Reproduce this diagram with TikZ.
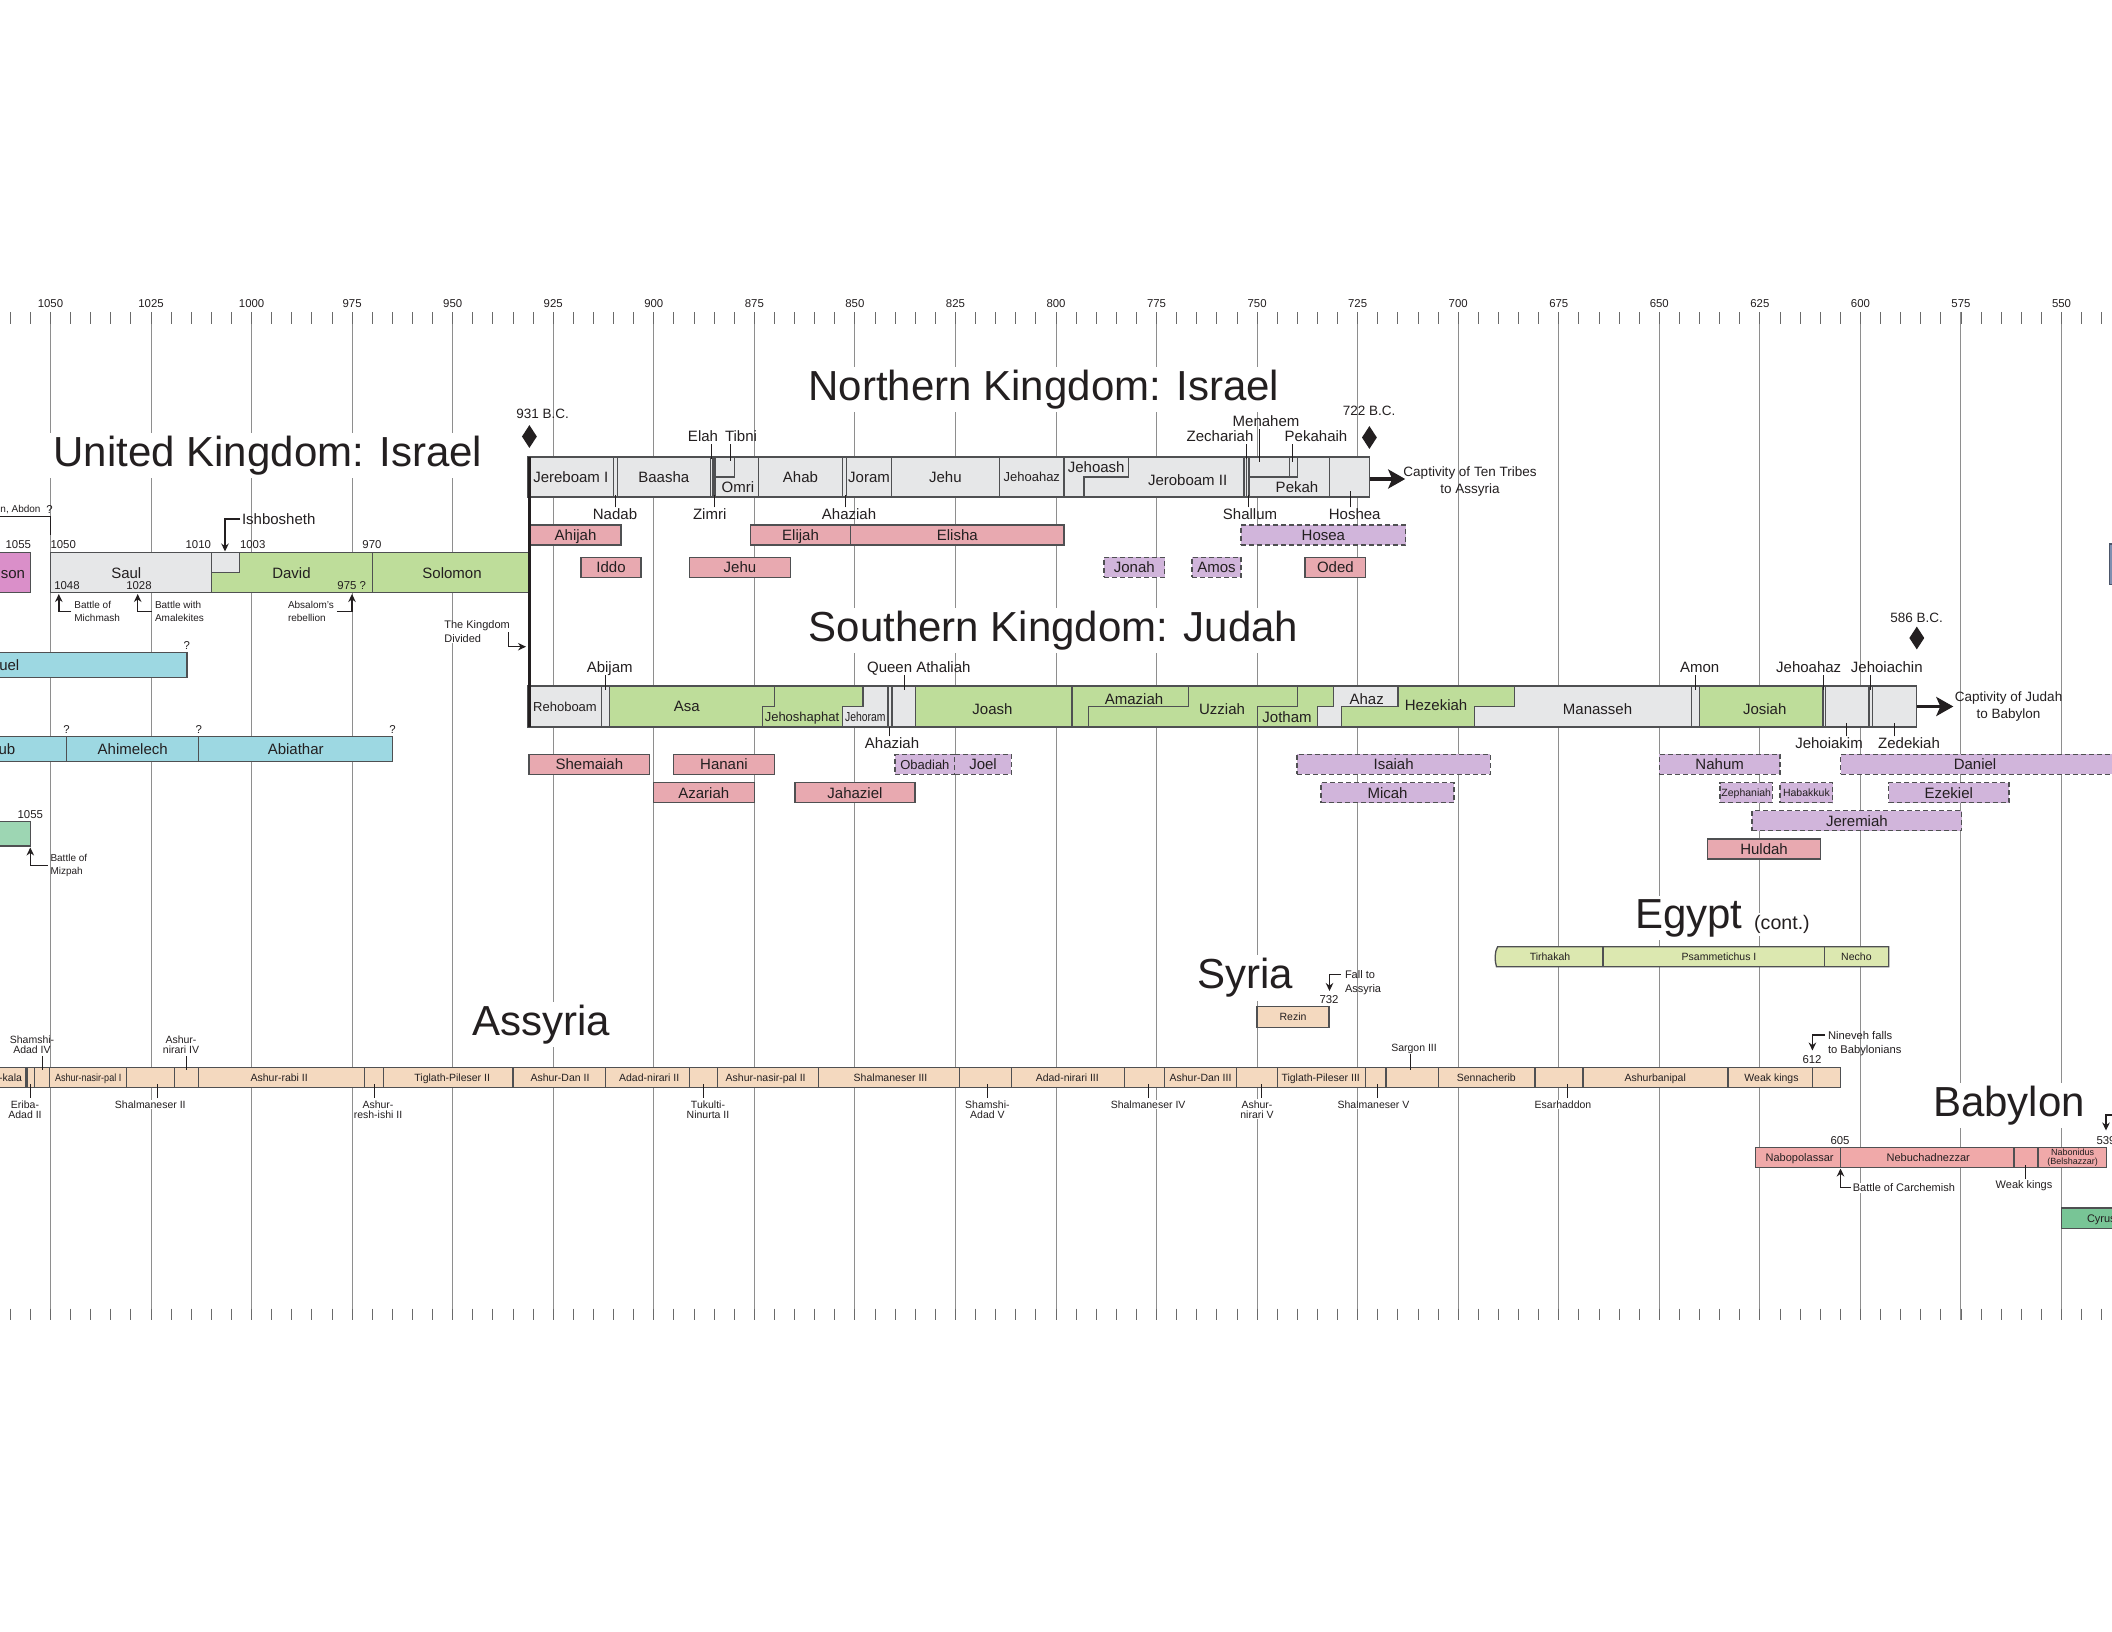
\documentclass[tikz,border=0pt]{standalone}
\usepackage{fontspec}
\setmainfont{Liberation Sans}
\usetikzlibrary{arrows.meta,shapes.geometric}
\definecolor{txt}{HTML}{231F20}
\definecolor{gridc}{HTML}{8E8E8E}
\definecolor{tickc}{HTML}{6A6A6A}
\definecolor{bord}{HTML}{4F5052}
\definecolor{kgray}{HTML}{E6E7E8}
\definecolor{kgreen}{HTML}{BEDD9A}
\definecolor{ppink}{HTML}{E8A9B0}
\definecolor{ppurple}{HTML}{D1B5DB}
\definecolor{pcyan}{HTML}{9DD8E2}
\definecolor{jmag}{HTML}{DA8FC9}
\definecolor{jmint}{HTML}{9DD6B3}
\definecolor{speach}{HTML}{F4D9BF}
\definecolor{egy}{HTML}{DCE8B0}
\definecolor{bab}{HTML}{F0A9A9}
\definecolor{cyr}{HTML}{78C596}
\definecolor{slate}{HTML}{7F8FB0}
\newcommand\FTitle{\fontsize{42}{46}\selectfont}
\newcommand\FKing{\fontsize{15}{18}\selectfont}
\newcommand\FKsm{\fontsize{13}{15}\selectfont}
\newcommand\FBC{\fontsize{13.5}{17}\selectfont}
\newcommand\FSmall{\fontsize{11}{13.3}\selectfont}
\newcommand\FNote{\fontsize{10}{13}\selectfont}
\newcommand\FAss{\fontsize{10.5}{10}\selectfont}
\newcommand\FYear{\fontsize{11.4}{13}\selectfont}
\newcommand\FNin{\fontsize{11.2}{14}\selectfont}
\newcommand\BX[7]{\node[#2, minimum width={#4-(#3)}, minimum height={#6-(#5)}] (#1) at (#3,#5) {#7};}
\newcommand\PtrUp[4]{%
  \path ([xshift=#2pt,yshift=1.5pt]#1.north) coordinate (#1-a);
  \path (#1-a |- #3) coordinate (#1-b);
  \draw[ptr] (#1-a) -- ([yshift=#4pt]#1-b);}
\newcommand\PtrDn[4]{%
  \path ([xshift=#2pt,yshift=-3pt]#1.south) coordinate (#1-a);
  \path (#1-a |- #3) coordinate (#1-b);
  \draw[ptr] (#1-a) -- ([yshift=-#4pt]#1-b);}
\tikzset{
  gridline/.style={draw=gridc, line width=1pt},
  tickline/.style={draw=tickc, line width=0.9pt},
  divl/.style={draw=bord, line width=1.2pt},
  ptr/.style={draw=txt, line width=0.9pt},
  arr/.style={draw=txt, line width=1.4pt, -{Stealth[length=8pt,width=7.5pt]}},
  bigarr/.style={draw=txt, line width=3.2pt, -{Stealth[length=17pt,width=19pt,inset=4pt]}},
  bx/.style={rectangle, draw=bord, line width=1.3pt, inner sep=0pt, outer sep=0pt, anchor=north west, font=\FKing, text height=10.8pt, text depth=0pt, text=txt},
  kingb/.style={bx, fill=kgray},
  goodb/.style={bx, fill=kgreen},
  pinkb/.style={bx, fill=ppink},
  purpb/.style={bx, fill=ppurple, dash pattern=on 5pt off 3pt},
  purpsb/.style={purpb, font=\fontsize{10.5}{12}\selectfont, text height=7.6pt},
  purpmb/.style={purpb, font=\FKsm, text height=9.4pt},
  cyanb/.style={bx, fill=pcyan},
  magb/.style={bx, fill=jmag},
  mintb/.style={bx, fill=jmint},
  peachb/.style={bx, fill=speach, font=\FAss, text height=7.6pt},
  babb/.style={bx, fill=bab},
  cyrb/.style={bx, fill=cyr},
  slateb/.style={bx, fill=slate, draw=slate!60!black},
  kl/.style={font=\FKing, inner sep=0pt, outer sep=0pt, text height=10.8pt, text depth=0pt, text=txt},
  kls/.style={kl, font=\FKsm, text height=9.4pt},
  yl/.style={kl, font=\FYear, text height=8.2pt},
  bcl/.style={kl, font=\FBC, text height=9.7pt},
  asl/.style={kl, font=\FAss, text height=7.6pt},
  bbl/.style={kl, font=\FSmall, text height=7.9pt},
  asl2/.style={font=\FAss, align=center, inner sep=0pt, outer sep=0pt, text=txt},
  note/.style={font=\FNote, align=left, inner sep=0pt, outer sep=0pt, text=txt, anchor=north west},
  ttl/.style={font=\FTitle, anchor=base, fill=white, inner xsep=5pt, inner ysep=3pt, text=txt},
  dia/.style={diamond, fill=txt, draw=none, inner sep=0pt, minimum width=15pt, minimum height=23pt},
}
\begin{document}
\begin{tikzpicture}[x=1pt,y=-1pt]
\useasboundingbox (0,0) rectangle (2112,1632);
\fill[white] (0,0) rectangle (2112,1632);
% ---------------- time grid
\foreach \yr in {1050,1025,...,550}{
  \draw[gridline] ({50.5+(1050-\yr)*4.022},312) -- ({50.5+(1050-\yr)*4.022},1320);
  \node[yl] (yr\yr) at ({50.5+(1050-\yr)*4.022},303) {\yr};
}
\foreach \yr in {1060,1055,...,540}{
  \draw[tickline] ({50.5+(1050-\yr)*4.022},312) -- ++(0,11.5);
  \draw[tickline] ({50.5+(1050-\yr)*4.022},1308.5) -- ++(0,11.5);
}
% ---------------- titles
\node[ttl] (tUnited) at (268,466.7) {United Kingdom: Israel};
\node[ttl] (tNorth) at (1044,400.5) {Northern Kingdom: Israel};
\node[ttl] (tSouth) at (1053.5,641.7) {Southern Kingdom: Judah};
\node[ttl] (tAssyria) at (541.4,1035) {Assyria};
\node[ttl] (tSyria) at (1245,988.8) {Syria};
\node[ttl] (tEgypt) at (1688.7,928.3) {Egypt};
\node[anchor=base west, font=\fontsize{19.6}{22}\selectfont, fill=white, inner sep=2pt, text=txt] (tCont) at (1752,929.5) {(cont.)};
\node[ttl] (tBabylon) at (2009,1116.7) {Babylon};
% ---------------- United Kingdom
\node[yl, font=\fontsize{10}{12}\selectfont, text height=7.2pt, anchor=west] (abdon) at (0.5,509) {n, Abdon};
\node[yl] (q0) at (49.6,509) {?};
\coordinate (abd-a) at (-2,516.7);
\coordinate (abd-b) at (50.5,535);
\draw[ptr] (abd-a) -| (abd-b);
\BX{sonbox}{magb}{-5}{30.7}{552.7}{592.7}{son}
\BX{saul}{kingb}{50.5}{211.4}{552.7}{592.7}{}
\BX{ishbox}{kingb}{211.4}{239.5}{552.7}{572.7}{}
\draw[divl, fill=kgreen, line width=1.3pt] (211.4,572.7) -- (239.5,572.7) -- (239.5,552.7) -- (372.3,552.7) -- (372.3,592.7) -- (211.4,592.7) -- cycle;
\BX{solomon}{goodb}{372.3}{529}{552.7}{592.7}{}
\node[kl] (saulL) at (126.3,572.7) {Saul};
\node[kl] (davidL) at (291.5,572.7) {David};
\node[kl] (solomonL) at (452,572.7) {Solomon};
\node[yl] (y1055a) at (18.3,544) {1055};
\node[yl, anchor=west] (y1050a) at (50.5,544) {1050};
\node[yl, anchor=east] (y1010) at (211,544) {1010};
\node[yl, anchor=west] (y1003) at (240,544) {1003};
\node[yl] (y970) at (372,544) {970};
\node[yl, anchor=west] (y1048) at (54.3,585.7) {1048};
\node[yl] (y1028) at (139,585.7) {1028};
\node[yl, anchor=east] (y975) at (366,585.7) {975 ?};
\node[kl, anchor=west] (ishb) at (242,519) {Ishbosheth};
\coordinate (ishb-t) at (225,551.5);
\draw[arr] ([xshift=-2pt]ishb.west) -| (ishb-t);
\node[note] (michmash) at (74.4,601.3) {Battle of\\Michmash};
\node[note] (amalek) at (155,601.3) {Battle with\\Amalekites};
\node[note] (absalom) at (288,601.3) {Absalom's\\rebellion};
\coordinate (mich-t) at (58.8,594);
\coordinate (amal-t) at (137.7,594);
\coordinate (abs-t) at (352,594);
\draw[arr] ([xshift=-3pt]michmash.west) -| (mich-t);
\draw[arr] ([xshift=-3pt]amalek.west) -| (amal-t);
\draw[arr] ([xshift=3pt]absalom.east) -| (abs-t);
\node[note, font=\FSmall, fill=white, inner sep=1pt] (kdiv) at (443.4,620) {The Kingdom\\Divided};
\coordinate (kd-s) at (508.3,632);
\coordinate (kd-t) at (526,646.7);
\draw[arr] (kd-s) |- (kd-t);
% Samuel / priests / Samuel at Mizpah
\BX{samuel}{cyanb}{-5}{186.9}{652.7}{677.3}{}
\node[kl, anchor=east] (samuelL) at (19.3,665) {uel};
\node[yl] (q1) at (186.9,645) {?};
\BX{ahitub}{cyanb}{-5}{66.6}{736.7}{761.7}{}
\node[kl, anchor=east] (ahitubL) at (15.2,749.2) {ub};
\BX{ahimelech}{cyanb}{66.6}{198.8}{736.7}{761.7}{Ahimelech}
\BX{abiathar}{cyanb}{198.8}{392.6}{736.7}{761.7}{Abiathar}
\node[yl] (q2) at (66.6,729) {?};
\node[yl] (q3) at (198.8,729) {?};
\node[yl] (q4) at (392.6,729) {?};
\BX{mintbox}{mintb}{-5}{30.8}{821.7}{846}{}
\node[yl] (y1055b) at (30.3,814.3) {1055};
\node[note] (mizpah) at (50.5,854.6) {Battle of\\Mizpah};
\coordinate (miz-t) at (30.3,847.5);
\draw[arr] ([xshift=-3pt]mizpah.west) -| (miz-t);
% ---------------- Northern kingdom bar
\node[kingb, minimum width={1369.7-528}, minimum height=40] (nbar) at (528,457) {};
\foreach \xx in {613.6,617.6,710.1,713,715,758.3,842.8,846.8,891.1,999.7,1064,1244,1246.5,1249,1329.5}
  \draw[divl] (\xx,457) -- (\xx,497);
\draw[divl] (715,477) -- (734.3,477) -- (734.3,457);
\draw[divl] (1084,497) -- (1084,477) -- (1128.4,477) -- (1128.4,457);
\draw[divl] (1249,477) -- (1297.3,477) -- (1297.3,457);
\draw[divl] (1289.3,457) -- (1289.3,477);
\node[kl] (jer1) at (570.8,477) {Jereboam I};
\node[kl] (baasha) at (663.8,477) {Baasha};
\node[kl] (omri) at (737.9,487) {Omri};
\node[kl] (ahab) at (800.5,477) {Ahab};
\node[kl] (joram) at (869,477) {Joram};
\node[kl] (jehuK) at (945.4,477) {Jehu};
\node[kls] (jehoahazN) at (1031.8,477) {Jehoahaz};
\node[kl] (jehoash) at (1096.2,467.5) {Jehoash};
\node[kl] (jer2) at (1187.6,480) {Jeroboam II};
\node[kl] (pekah) at (1297,487) {Pekah};
\node[kl] (elah) at (703,436) {Elah};
\node[kl] (tibni) at (741,436) {Tibni};
\node[kl] (zech) at (1220,436) {Zechariah};
\node[kl] (menahem) at (1266,421) {Menahem};
\node[kl] (pekahiah) at (1316,436) {Pekahaih};
\PtrDn{elah}{8.3}{nbar.north}{2}
\PtrDn{tibni}{-11}{nbar.north}{4}
\PtrDn{zech}{26}{nbar.north}{2}
\PtrDn{menahem}{-7}{nbar.north}{5}
\PtrDn{pekahiah}{-24}{nbar.north}{5}
\node[kl] (nadab) at (615,514.3) {Nadab};
\node[kl] (zimri) at (709.7,514.3) {Zimri};
\node[kl] (ahaziahN) at (849,514.3) {Ahaziah};
\node[kl] (shallum) at (1250,514.3) {Shallum};
\node[kl] (hoshea) at (1354.7,514.3) {Hoshea};
\PtrUp{nadab}{0.5}{nbar.south}{2}
\PtrUp{zimri}{5}{nbar.south}{2}
\PtrUp{ahaziahN}{-4}{nbar.south}{2}
\PtrUp{shallum}{-2}{nbar.south}{2}
\PtrUp{hoshea}{-4.7}{nbar.south}{6}
\node[dia] (d931) at (529.4,436.5) {};
\node[bcl] (bc931) at (542.7,413.3) {931 B.C.};
\node[dia] (d722) at (1369.4,437.5) {};
\node[bcl] (bc722) at (1369,410.7) {722 B.C.};
\draw[bigarr] ([yshift=-2pt]nbar.east) -- ++(35.5,0);
\node[note, font=\FBC, align=center, anchor=north] (capt1) at (1470,466.4) {Captivity of Ten Tribes\\to Assyria};
% northern prophets
\BX{ahijah}{pinkb}{530}{621}{525}{545}{Ahijah}
\BX{elijah}{pinkb}{750.5}{850.6}{525}{545}{Elijah}
\BX{elisha}{pinkb}{850.6}{1064}{525}{545}{Elisha}
\BX{hosea}{purpb}{1241}{1405.7}{525}{545}{Hosea}
\BX{iddo}{pinkb}{581}{641}{557.3}{577.3}{Iddo}
\BX{jehuP}{pinkb}{689.6}{790.4}{557.3}{577.3}{Jehu}
\BX{jonah}{purpb}{1104}{1164.6}{557.3}{577.3}{Jonah}
\BX{amos}{purpb}{1192}{1241}{557.3}{577.3}{Amos}
\BX{oded}{pinkb}{1305}{1365.7}{557.3}{577.3}{Oded}
% ---------------- Southern kingdom bar
\node[kingb, draw=none, minimum width={1916.8-528}, minimum height=41] (jbar) at (528,686) {};
\fill[kgreen] (609.3,686) -- (863,686) -- (863,706.5) -- (842.8,706.5) -- (842.8,727) -- (609.3,727) -- cycle;
\fill[kgreen] (915.2,686) rectangle (1072,727);
\fill[kgreen] (1072,686) -- (1333.6,686) -- (1333.6,706.5) -- (1317.4,706.5) -- (1317.4,727) -- (1072,727) -- cycle;
\fill[kgreen] (1397.9,686) -- (1514.5,686) -- (1514.5,706.5) -- (1474.3,706.5) -- (1474.3,727) -- (1341.6,727) -- (1341.6,706.5) -- (1397.9,706.5) -- cycle;
\fill[kgreen] (1699.6,686) rectangle (1823,727);
\foreach \xx in {601.5,609.3,888,892,915.2,1072,1691.5,1699.6,1823,1825.5,1869,1872.3}
  \draw[divl] (\xx,686) -- (\xx,727);
\draw[divl] (774.5,686) -- (774.5,706.5) -- (762.4,706.5) -- (762.4,727);
\draw[divl] (863,686) -- (863,706.5) -- (842.8,706.5) -- (842.8,727);
\draw[divl] (1188.7,686) -- (1188.7,706.5) -- (1088.2,706.5) -- (1088.2,727);
\draw[divl] (1297.3,686) -- (1297.3,706.5) -- (1257.1,706.5) -- (1257.1,727);
\draw[divl] (1333.6,686) -- (1333.6,706.5) -- (1317.4,706.5) -- (1317.4,727);
\draw[divl] (1397.9,686) -- (1397.9,706.5) -- (1341.6,706.5) -- (1341.6,727);
\draw[divl] (1514.5,686) -- (1514.5,706.5) -- (1474.3,706.5) -- (1474.3,727);
\draw[divl, line width=1.3pt] (jbar.north west) rectangle (jbar.south east);
\draw[draw=txt, line width=3.3pt] ([xshift=1.5pt]nbar.north west) -- ([xshift=1.5pt]jbar.south west);
\node[kls] (rehob) at (565,706.5) {Rehoboam};
\node[kl] (asa) at (686.8,706.5) {Asa};
\node[kls] (jehosh) at (802,717) {Jehoshaphat};
\node[kls] (jehoram) at (865.3,717) {\scalebox{0.8}[1]{Jehoram}};
\node[kl] (joash) at (992.5,709) {Joash};
\node[kl] (amaziah) at (1134,699) {Amaziah};
\node[kl] (uzziah) at (1222,709) {Uzziah};
\node[kl] (jotham) at (1287,717.3) {Jotham};
\node[kl] (ahaz) at (1366.7,699) {Ahaz};
\node[kl] (hezekiah) at (1436,705) {Hezekiah};
\node[kl] (manasseh) at (1597.5,709) {Manasseh};
\node[kl] (josiah) at (1764.7,709) {Josiah};
\node[kl] (abijam) at (609.7,666.7) {Abijam};
\node[kl] (athaliah) at (918.8,666.7) {Queen Athaliah};
\node[kl] (amon) at (1699.7,666.7) {Amon};
\node[kl] (jehoahazJ) at (1808.7,666.7) {Jehoahaz};
\node[kl] (jehoiachin) at (1886.8,666.7) {Jehoiachin};
\PtrDn{abijam}{-4.7}{jbar.north}{4}
\PtrDn{athaliah}{-14.5}{jbar.north}{4}
\PtrDn{amon}{-4.1}{jbar.north}{4}
\PtrDn{jehoahazJ}{15}{jbar.north}{4}
\PtrDn{jehoiachin}{-16.3}{jbar.north}{4}
\node[kl] (ahaziahJ) at (892,743.3) {Ahaziah};
\node[kl] (jehoiakim) at (1829,743.3) {Jehoiakim};
\node[kl] (zedekiah) at (1909,743.3) {Zedekiah};
\PtrUp{ahaziahJ}{-2.4}{jbar.south}{0}
\PtrUp{jehoiakim}{17}{jbar.south}{4}
\PtrUp{zedekiah}{-15}{jbar.south}{4}
\node[dia] (d586) at (1916.8,638) {};
\node[bcl] (bc586) at (1916.6,617.3) {586 B.C.};
\draw[bigarr] (jbar.east) -- ++(36.5,0);
\node[note, font=\FBC, align=center, anchor=north] (capt2) at (2008.6,691.8) {Captivity of Judah\\to Babylon};
% southern prophets
\BX{shemaiah}{pinkb}{529}{649.7}{754.3}{774.3}{Shemaiah}
\BX{hanani}{pinkb}{673.5}{774.4}{754.3}{774.3}{Hanani}
\BX{azariah}{pinkb}{653.4}{754.2}{782.7}{802.7}{Azariah}
\BX{jahaziel}{pinkb}{795}{914.9}{782.7}{802.7}{Jahaziel}
\BX{obadiah}{purpmb}{895}{954.8}{754.3}{774.3}{Obadiah}
\BX{joel}{purpb}{954.8}{1011.3}{754.3}{774.3}{Joel}
\BX{isaiah}{purpb}{1296.9}{1490.4}{754.3}{774.3}{Isaiah}
\BX{micah}{purpb}{1321}{1454}{782.7}{802.7}{Micah}
\BX{nahum}{purpb}{1659.3}{1780}{754.3}{774.3}{Nahum}
\BX{daniel}{purpb}{1840.5}{2125}{754.3}{774.3}{}
\node[kl] (danielL) at (1975,764.3) {Daniel};
\BX{zeph}{purpsb}{1720}{1772.4}{782.7}{802.7}{Zephaniah}
\BX{habak}{purpsb}{1780}{1832.8}{782.7}{802.7}{Habakkuk}
\BX{ezekiel}{purpb}{1888.6}{2009}{782.7}{802.7}{Ezekiel}
\BX{jeremiah}{purpb}{1752}{1961.8}{810.7}{830.7}{Jeremiah}
\BX{huldah}{pinkb}{1707.5}{1820.5}{839}{859}{Huldah}
% right edge sliver
\BX{slatebox}{slateb}{2109.3}{2125}{544}{584.3}{}
% ---------------- Egypt
\path[draw=bord, line width=1.3pt, fill=egy] (1497.6,946.7) -- (1888.7,946.7) -- (1888.7,966.7) -- (1496.5,966.7) .. controls (1494.6,961) and (1494.4,952) .. (1497.6,946.7) -- cycle;
\draw[divl] (1603,946.7) -- (1603,966.7);
\draw[divl] (1824.6,946.7) -- (1824.6,966.7);
\node[asl] (tirh) at (1550,956.7) {Tirhakah};
\node[asl] (psam) at (1719,956.7) {Psammetichus I};
\node[asl] (necho) at (1856.4,956.7) {Necho};
% ---------------- Syria
\node[note, font=\FSmall] (fall) at (1345,971) {Fall to\\Assyria};
\coordinate (fall-s) at (1341,974.5);
\coordinate (fall-t) at (1329.5,991);
\draw[arr] (fall-s) -| (fall-t);
\node[yl] (y732) at (1329,999.3) {732};
\BX{rezin}{peachb}{1257}{1329}{1006.7}{1027.3}{Rezin}
% ---------------- Assyria
\node[peachb, minimum width=1845.5, minimum height=20] (abar) at (-5,1067.3) {};
\foreach \xx in {34.4,49.6,126.3,174.5,198.8,364.1,383.8,512.9,605.1,689.6,717.4,818.5,959.4,1011.7,1124.2,1164.6,1236.3,1277.1,1365.8,1386,1438.1,1534.9,1583,1727.9,1812.4}
  \draw[divl] (\xx,1067.3) -- (\xx,1087.3);
\draw[divl, line width=2.4pt] (26.5,1067.3) -- (26.5,1087.3);
\node[asl, anchor=east] (akala) at (22,1077.3) {-kala};
\node[asl] (anp1) at (88.2,1077.3) {\scalebox{0.86}[1]{Ashur-nasir-pal I}};
\node[asl] (ar2) at (279.2,1077.3) {Ashur-rabi II};
\node[asl] (tp2) at (452.2,1077.3) {Tiglath-Pileser II};
\node[asl] (ad2) at (560,1077.3) {Ashur-Dan II};
\node[asl] (an2) at (649.2,1077.3) {Adad-nirari II};
\node[asl] (anp2) at (765.7,1077.3) {Ashur-nasir-pal II};
\node[asl] (sh3) at (890.5,1077.3) {Shalmaneser III};
\node[asl] (an3) at (1067.3,1077.3) {Adad-nirari III};
\node[asl] (ad3) at (1200.5,1077.3) {Ashur-Dan III};
\node[asl] (tp3) at (1320.7,1077.3) {Tiglath-Pileser III};
\node[asl] (senn) at (1486.3,1077.3) {Sennacherib};
\node[asl] (asbp) at (1655.2,1077.3) {Ashurbanipal};
\node[asl] (aweak) at (1771.5,1077.3) {Weak kings};
\node[asl2, anchor=north] (shad4) at (32,1035.4) {Shamshi-\\Adad IV};
\node[asl2, anchor=north] (anir4) at (181,1035.4) {Ashur-\\nirari IV};
\node[asl] (sarg) at (1414,1047.3) {Sargon III};
\PtrDn{shad4}{10.2}{abar.north}{3}
\PtrDn{anir4}{5.9}{abar.north}{3}
\PtrDn{sarg}{-3.7}{abar.north}{3}
\node[asl2, anchor=north, fill=white, inner sep=1pt] (erib) at (25,1099.4) {Eriba-\\Adad II};
\node[asl, fill=white, inner sep=1pt] (sh2) at (150.3,1104.3) {Shalmaneser II};
\node[asl2, anchor=north, fill=white, inner sep=1pt] (arsh) at (378,1099.4) {Ashur-\\resh-ishi II};
\node[asl2, anchor=north, fill=white, inner sep=1pt] (tuk) at (708,1099.4) {Tukulti-\\Ninurta II};
\node[asl2, anchor=north, fill=white, inner sep=1pt] (shad5) at (987.4,1099.4) {Shamshi-\\Adad V};
\node[asl, fill=white, inner sep=1pt] (sh4) at (1148.1,1104.3) {Shalmaneser IV};
\node[asl2, anchor=north, fill=white, inner sep=1pt] (anir5) at (1257,1099.4) {Ashur-\\nirari V};
\node[asl, fill=white, inner sep=1pt] (sh5) at (1373.5,1104.3) {Shalmaneser V};
\node[asl, fill=white, inner sep=1pt] (esar) at (1563,1104.3) {Esarhaddon};
\PtrUp{erib}{5.3}{abar.south}{3}
\PtrUp{sh2}{6.7}{abar.south}{3}
\PtrUp{arsh}{-3.8}{abar.south}{3}
\PtrUp{tuk}{-4.6}{abar.south}{3}
\PtrUp{shad5}{-0.4}{abar.south}{3}
\PtrUp{sh4}{0.5}{abar.south}{3}
\PtrUp{anir5}{4}{abar.south}{3}
\PtrUp{sh5}{4.2}{abar.south}{3}
\PtrUp{esar}{4}{abar.south}{3}
\node[note, font=\FNin] (nineveh) at (1828,1031.3) {Nineveh falls\\to Babylonians};
\coordinate (nin-s) at (1825,1035);
\coordinate (nin-t) at (1812.4,1050.5);
\draw[arr] (nin-s) -| (nin-t);
\node[yl] (y612) at (1812,1059) {612};
% ---------------- Babylon
\node[babb, minimum width={2106.2-1755.6}, minimum height=20] (bbar) at (1755.6,1147.7) {};
\draw[divl] (1840.5,1147.7) -- (1840.5,1167.7);
\draw[divl] (2014,1147.7) -- (2014,1167.7);
\draw[divl] (2038,1147.7) -- (2038,1167.7);
\node[bbl] (nabo) at (1799.6,1157.7) {Nabopolassar};
\node[bbl] (nebu) at (1928.2,1157.7) {Nebuchadnezzar};
\node[font=\fontsize{9}{9}\selectfont, align=center, inner sep=0pt, text=txt] (nabon) at (2072.5,1157.5) {Nabonidus\\(Belshazzar)};
\node[bbl] (bweak) at (2024,1184.5) {Weak kings};
\PtrUp{bweak}{1.8}{bbar.south}{3}
\node[yl] (y605) at (1840,1140) {605};
\node[yl] (y539) at (2106,1140) {539};
\coordinate (b539-s) at (2118,1115);
\coordinate (b539-t) at (2106,1130.5);
\draw[arr] (b539-s) -| (b539-t);
\node[bbl, anchor=west, fill=white, inner sep=1pt] (carch) at (1851.8,1187.7) {Battle of Carchemish};
\coordinate (carch-t) at (1840.5,1168.5);
\draw[arr] ([xshift=-1pt]carch.west) -| (carch-t);
\BX{cyrus}{cyrb}{2061.7}{2125}{1208}{1228.3}{}
\node[bbl, anchor=west] (cyrusL) at (2087,1218.2) {Cyrus};
\end{tikzpicture}
\end{document}
